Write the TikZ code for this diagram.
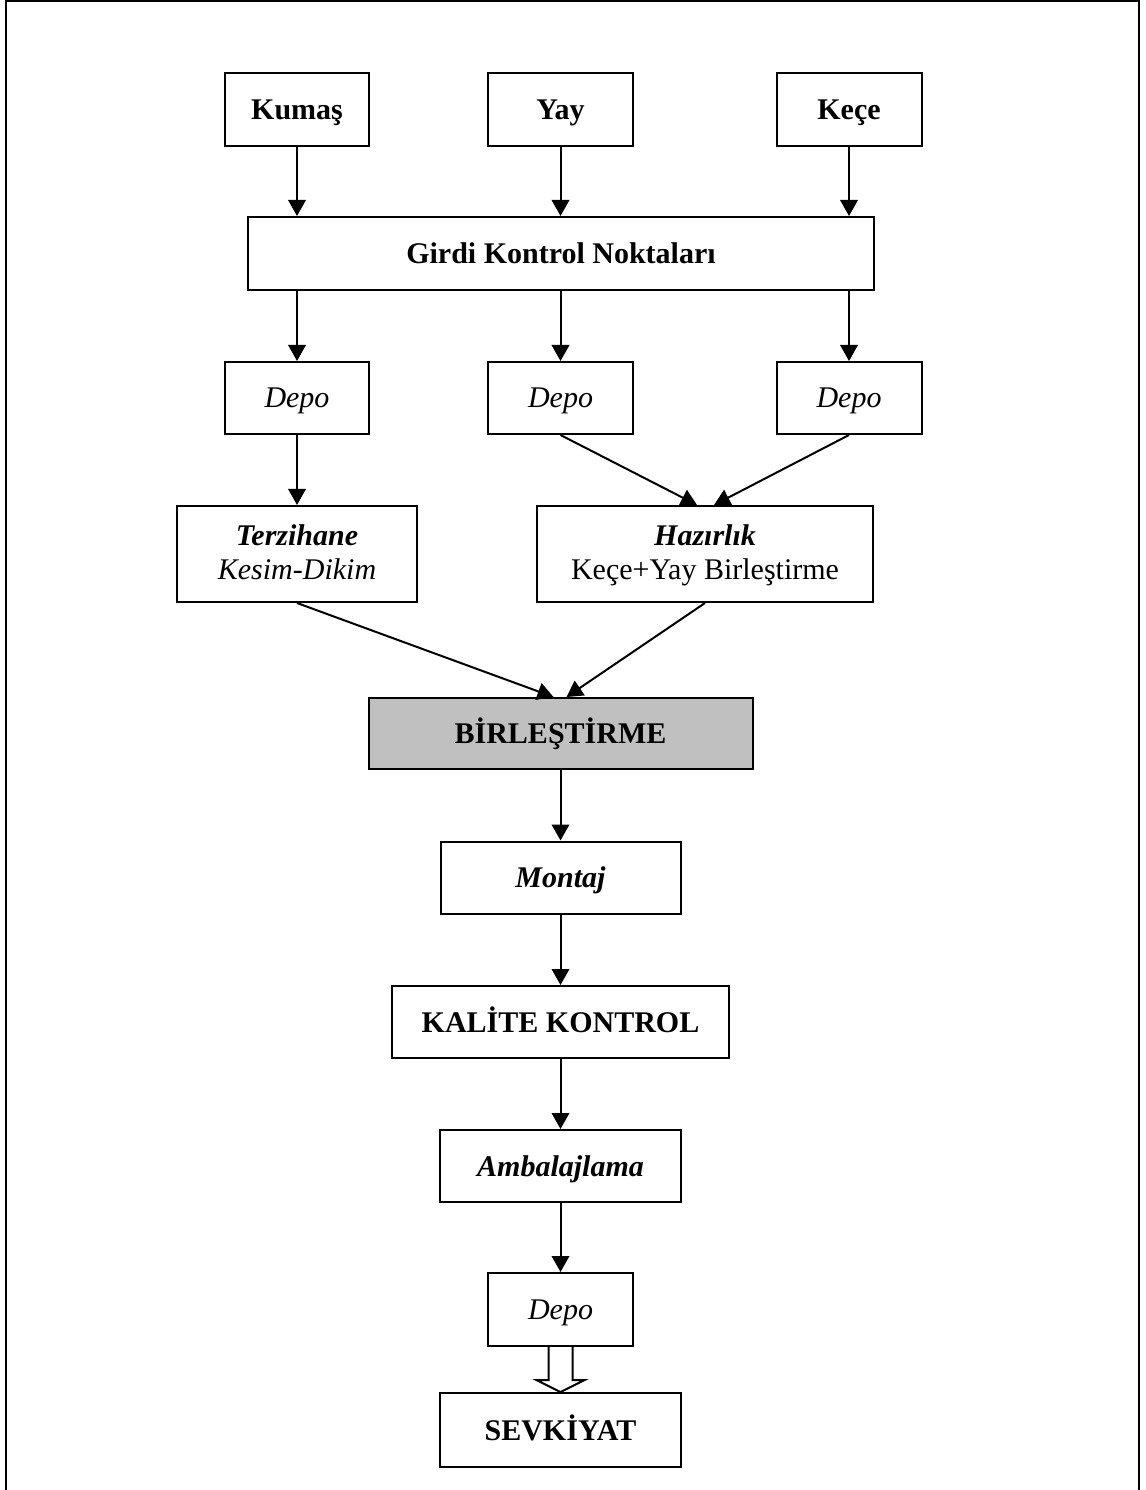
\documentclass[tikz,border=0pt]{standalone}
\usepackage{fontspec}
\setmainfont{Liberation Serif}
\usetikzlibrary{arrows.meta,calc}
% strut that fixes the height and depth of each line in two-line boxes
\newcommand\twostrut{\rule[-3pt]{0pt}{12.8pt}}
\definecolor{mergegray}{HTML}{C0C0C0}
\begin{document}
\begin{tikzpicture}[x=0.4pt,y=-0.4pt,
  box/.style={draw, line width=0.8pt, inner sep=0pt, align=center,
    font=\fontsize{12pt}{13.8pt}\selectfont, text height=8pt, text depth=0pt},
  twoline/.style={box, text height=, text depth=},
  sz/.style 2 args={minimum width=#1*0.4pt, minimum height=#2*0.4pt},
  arr/.style={line width=0.8pt, -{Triangle[length=6.4pt,width=7pt]}},
  frameline/.style={line width=0.8pt}]
\useasboundingbox (0,0) rectangle (1145,1490);

% page frame (open at the bottom)
\coordinate (fbl) at (6,1490);
\coordinate (ftl) at (6,1);
\coordinate (ftr) at (1139,1);
\coordinate (fbr) at (1139,1490);
\draw[frameline] (fbl) -- (ftl) -- (ftr) -- (fbr);

% raw materials
\node[box, sz={144}{73}] (kumas) at (297,109.5) {\textbf{Kumaş}};
\node[box, sz={145}{73}] (yay)   at (560.5,109.5) {\textbf{Yay}};
\node[box, sz={145}{73}] (kece)  at (849,109.5) {\textbf{Keçe}};

% incoming inspection
\node[box, sz={626}{73}] (girdi) at (561,253.5) {\textbf{Girdi Kontrol Noktaları}};

% storage
\node[box, sz={144}{72}] (depoa) at (297,398) {\textit{Depo}};
\node[box, sz={145}{72}] (depob) at (560.5,398) {\textit{Depo}};
\node[box, sz={145}{72}] (depoc) at (849,398) {\textit{Depo}};

% preparation stations
\node[twoline, sz={240}{96}] (terz) at (297,554)
  {\twostrut\textbf{\textit{Terzihane}}\\\textit{Kesim-Dikim}\twostrut};
\node[twoline, sz={336}{96}] (haz) at (705,554)
  {\twostrut\textbf{\textit{Hazırlık}}\\Keçe+Yay Birleştirme\twostrut};

% assembly line
\node[box, sz={384}{71}, fill=mergegray] (birl) at (560.5,733.5) {\textbf{BİRLEŞTİRME}};
\node[box, sz={240}{72}] (montaj) at (560.5,877.5) {\textbf{\textit{Montaj}}};
\node[box, sz={337}{72}] (kalite) at (560.5,1022) {\textbf{KALİTE KONTROL}};
\node[box, sz={241}{72}] (ambal) at (560.5,1166) {\textbf{\textit{Ambalajlama}}};
\node[box, sz={145}{73}] (depod) at (560.5,1309.5) {\textit{Depo}};
\node[box, sz={241}{74}] (sevk) at (560.5,1430) {\textbf{SEVKİYAT}};

% flow connectors
\draw[arr] (kumas.south) -- (girdi.north -| kumas.south);
\draw[arr] (yay.south) -- (girdi.north -| yay.south);
\draw[arr] (kece.south) -- (girdi.north -| kece.south);

\draw[arr] (girdi.south -| depoa.north) -- (depoa.north);
\draw[arr] (girdi.south -| depob.north) -- (depob.north);
\draw[arr] (girdi.south -| depoc.north) -- (depoc.north);

\draw[arr] (depoa.south) -- (terz.north);
\draw[arr] (depob.south) -- ($(haz.north)+(-8,0)$);
\draw[arr] (depoc.south) -- ($(haz.north)+(9,0)$);

\draw[arr] (terz.south) -- ($(birl.north)+(-7,0)$);
\draw[arr] (haz.south) -- ($(birl.north)+(6,0)$);

\draw[arr] (birl.south) -- (montaj.north);
\draw[arr] (montaj.south) -- (kalite.north);
\draw[arr] (kalite.south) -- (ambal.north);
\draw[arr] (ambal.south) -- (depod.north);

% hollow block arrow to shipping
\draw[line width=0.8pt, fill=white, line join=miter]
  ($(depod.south)+(-12,0)$) -- ($(sevk.north)+(-12,-12)$)
  -- ($(sevk.north)+(-24,-12)$) -- (sevk.north)
  -- ($(sevk.north)+(24,-12)$) -- ($(sevk.north)+(12,-12)$)
  -- ($(depod.south)+(12,0)$);
\end{tikzpicture}
\end{document}
